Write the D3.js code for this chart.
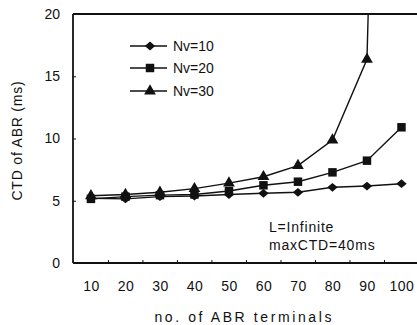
<!DOCTYPE html>
<html><head><meta charset="utf-8">
<script src="https://cdn.jsdelivr.net/npm/d3@7"></script>
<style>body{margin:0;background:#fff}svg{display:block}text{font-family:"Liberation Sans",Arial,sans-serif;fill:#111}</style>
</head><body>
<svg id="c" width="417" height="325"></svg>
<script>
const xValues = [10,20,30,40,50,60,70,80,90,100];
const nv10 = [5.2,5.15,5.33,5.38,5.5,5.6,5.68,6.08,6.18,6.37];
const nv20 = [5.15,5.33,5.45,5.5,5.78,6.24,6.53,7.28,8.22,10.9];
const nv30 = [5.4,5.5,5.68,5.97,6.42,6.93,7.82,9.88,16.36,120];
const seriesNames = ["Nv=10","Nv=20","Nv=30"];
const yTicks = [0,5,10,15,20];
const xTitle = "no. of ABR terminals";
const yTitle = "CTD of ABR (ms)";
const notes = ["L=Infinite","maxCTD=40ms"];

const svg = d3.select("#c");
const L=73, T=14, R=417, B=263;
const x = d3.scaleLinear().domain([4.8,104.5]).range([L,R]);
const y = d3.scaleLinear().domain([0,20]).range([B,T]);

const defs = svg.append("defs");
defs.append("clipPath").attr("id","clip").append("rect").attr("x",L).attr("y",T).attr("width",R-L).attr("height",B-T);

// frame
svg.append("line").attr("x1",L).attr("x2",R).attr("y1",T).attr("y2",T).attr("stroke","#111").attr("stroke-width",1.8);
svg.append("line").attr("x1",L).attr("x2",L).attr("y1",T).attr("y2",B).attr("stroke","#111").attr("stroke-width",1.8);
svg.append("line").attr("x1",L).attr("x2",R).attr("y1",B).attr("y2",B).attr("stroke","#111").attr("stroke-width",1.8);

// y axis
const ya = svg.append("g").attr("transform",`translate(${L},0)`)
  .call(d3.axisLeft(y).tickValues(yTicks).tickSize(-3).tickPadding(13).tickFormat(d3.format("d")));
ya.select(".domain").remove();
ya.selectAll("line").attr("stroke","#111");
ya.selectAll("text").style("font-size","14px").attr("fill","#111");

// x axis
const xa = svg.append("g").attr("transform",`translate(0,${B})`)
  .call(d3.axisBottom(x).tickValues(xValues).tickSize(-3).tickPadding(18).tickFormat(d3.format("d")));
xa.select(".domain").remove();
xa.selectAll("line").attr("stroke","#111").attr("transform","translate(17,0)");
xa.selectAll("text").style("font-size","14px").style("letter-spacing","0.5px").attr("fill","#111");

svg.append("text").attr("x",(x(10)+x(100))/2-2).attr("y",322).attr("text-anchor","middle")
  .style("font-size","14px").style("letter-spacing","2.6px").text(xTitle);
svg.append("text").attr("transform",`translate(22,${(T+B)/2+2}) rotate(-90)`).attr("text-anchor","middle")
  .style("font-size","14px").style("letter-spacing","0.8px").text(yTitle);

const diamond = {draw(ctx,size){const w=5.2,h=4.4;ctx.moveTo(0,-h);ctx.lineTo(w,0);ctx.lineTo(0,h);ctx.lineTo(-w,0);ctx.closePath();}};
const symbols = [diamond, d3.symbolSquare, d3.symbolTriangle];
const sizes = [50, 72, 60];
const all = [nv10, nv20, nv30];
const line = d3.line().x((d,i)=>x(xValues[i])).y(d=>y(d));
const g = svg.append("g").attr("clip-path","url(#clip)");
all.forEach((s,k)=>{
  g.append("path").attr("d",line(s)).attr("fill","none").attr("stroke","#111").attr("stroke-width",1.4);
  g.selectAll(null).data(s).join("path")
    .attr("transform",(d,i)=>`translate(${x(xValues[i])},${y(d)})`)
    .attr("d",d3.symbol().type(symbols[k]).size(sizes[k])).attr("fill","#111");
});

// legend
const legY = [46,68,91];
seriesNames.forEach((n,k)=>{
  svg.append("line").attr("x1",130).attr("x2",167).attr("y1",legY[k]).attr("y2",legY[k]).attr("stroke","#111").attr("stroke-width",1.4);
  svg.append("path").attr("transform",`translate(150,${legY[k]})`).attr("d",d3.symbol().type(symbols[k]).size(sizes[k])).attr("fill","#111");
  svg.append("text").attr("x",173).attr("y",legY[k]+5).style("font-size","14px").text(n);
});

notes.forEach((t,i)=>{
  svg.append("text").attr("x",269).attr("y",232+i*18).style("font-size","14px").style("letter-spacing","0.8px").text(t);
});
</script>
</body></html>
